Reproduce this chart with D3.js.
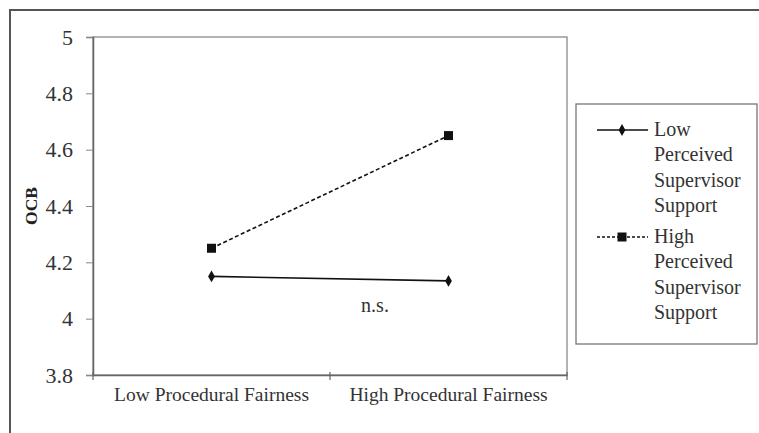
<!DOCTYPE html>
<html><head><meta charset="utf-8">
<script src="https://cdnjs.cloudflare.com/ajax/libs/d3/7.8.5/d3.min.js"></script>
<style>body{margin:0;background:#fff}svg{display:block}svg text{font-family:'Liberation Serif','Times New Roman',serif}</style>
</head><body><svg id="c" width="759" height="433"></svg>
<script>
const categories = ["Low Procedural Fairness", "High Procedural Fairness"];
const lowPSS = [4.15, 4.134];
const highPSS = [4.25, 4.65];
const yTicks = [3.8, 4, 4.2, 4.4, 4.6, 4.8, 5];
const yTickLabels = ["3.8", "4", "4.2", "4.4", "4.6", "4.8", "5"];
const seriesNames = [["Low", "Perceived", "Supervisor", "Support"], ["High", "Perceived", "Supervisor", "Support"]];

const svg = d3.select("#c");
const font = "Liberation Serif";
const L = 93, R = 567, T = 37, B = 375;

// outer frame
svg.append("rect").attr("x", 10).attr("y", 10).attr("width", 760).attr("height", 440)
  .attr("fill", "none").attr("stroke", "#555").attr("stroke-width", 2);

const x = d3.scaleBand().domain(categories).range([L, R]);
const y = d3.scaleLinear().domain([3.8, 5]).range([B, T]);

// plot border
svg.append("rect").attr("x", L).attr("y", T).attr("width", R - L).attr("height", B - T)
  .attr("fill", "none").attr("stroke", "#999").attr("stroke-width", 1.5);

// y axis
const ya = svg.append("g").attr("transform", `translate(${L},0)`)
  .call(d3.axisLeft(y).tickValues(yTicks).tickFormat((d, i) => yTickLabels[i]).tickSize(7).tickPadding(13));
ya.attr("font-family", font).attr("font-size", 22);
ya.select(".domain").attr("stroke", "#666").attr("stroke-width", 1.5);
ya.selectAll(".tick line").attr("stroke", "#888");
ya.selectAll("text").style("font-size", "22px").attr("fill", "#333");

// x axis
const xa = svg.append("g").attr("transform", `translate(0,${B})`)
  .call(d3.axisBottom(x).tickSize(0).tickPadding(12));
xa.attr("font-family", font).attr("font-size", 19.5);
xa.select(".domain").attr("stroke", "#666").attr("stroke-width", 1.5);
xa.selectAll("text").style("font-size", "19.5px").attr("fill", "#333");
[L, (L + R) / 2, R].forEach(v => {
  svg.append("line").attr("x1", v).attr("x2", v).attr("y1", B - 3).attr("y2", B + 5)
    .attr("stroke", "#666").attr("stroke-width", 1.2);
});

// y label
svg.append("text").attr("transform", "translate(37,206) rotate(-90)")
  .attr("text-anchor", "middle").attr("font-weight", "bold")
  .style("font-size", "17.5px").attr("fill", "#222").text("OCB");

const cx = d => x(d) + x.bandwidth() / 2;
const line = d3.line().x((d, i) => cx(categories[i])).y(d => y(d));

svg.append("path").datum(lowPSS).attr("d", line).attr("fill", "none")
  .attr("stroke", "#111").attr("stroke-width", 1.6);
svg.append("path").datum(highPSS).attr("d", line).attr("fill", "none")
  .attr("stroke", "#111").attr("stroke-width", 1.6).attr("stroke-dasharray", "4,2.5");

const diamond = d3.symbol().type(d3.symbolDiamond).size(40);
svg.selectAll(".dm").data(lowPSS).join("path")
  .attr("transform", (d, i) => `translate(${cx(categories[i])},${y(d)})`)
  .attr("d", diamond).attr("fill", "#111");
svg.selectAll(".sq").data(highPSS).join("rect")
  .attr("x", (d, i) => cx(categories[i]) - 4.5).attr("y", d => y(d) - 4.5)
  .attr("width", 9).attr("height", 9).attr("fill", "#111");

// n.s.
svg.append("text").attr("x", 375).attr("y", 312).attr("text-anchor", "middle")
  .style("font-size", "20px").attr("fill", "#333").text("n.s.");

// legend
svg.append("rect").attr("x", 576).attr("y", 104).attr("width", 181).attr("height", 240)
  .attr("fill", "#fff").attr("stroke", "#777").attr("stroke-width", 1.3);
const lg = [{y0: 130, dash: null, sym: "d"}, {y0: 237, dash: "3,2", sym: "s"}];
lg.forEach((s, k) => {
  svg.append("line").attr("x1", 597).attr("x2", 648).attr("y1", s.y0).attr("y2", s.y0)
    .attr("stroke", "#111").attr("stroke-width", 1.5).attr("stroke-dasharray", s.dash);
  if (s.sym === "d") {
    svg.append("path").attr("transform", `translate(622,${s.y0})`).attr("d", diamond).attr("fill", "#111");
  } else {
    svg.append("rect").attr("x", 617.5).attr("y", s.y0 - 4.5).attr("width", 9).attr("height", 9).attr("fill", "#111");
  }
  const t = svg.append("text").style("font-size", "20px").attr("fill", "#333");
  seriesNames[k].forEach((w, j) => {
    t.append("tspan").attr("x", 654).attr("y", s.y0 + 6 + j * 25.3).text(w);
  });
});
</script></body></html>
